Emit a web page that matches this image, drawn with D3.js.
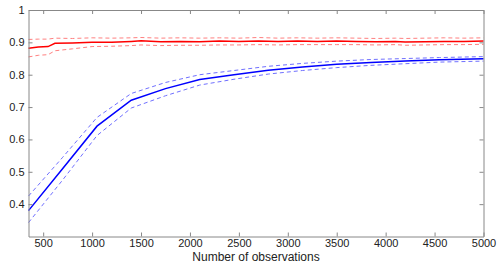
<!DOCTYPE html>
<html>
<head>
<meta charset="utf-8">
<script src="https://cdn.jsdelivr.net/npm/d3@7"></script>
<style>
  body { margin: 0; background: #fff; }
  text { font-family: "Liberation Sans", Arial, sans-serif; fill: #222; }
</style>
</head>
<body>
<div class="canvas"></div>
<script>
// blue curve: mean and dashed bounds
const blueX = [350, 700, 1050, 1400, 1750, 2100, 2450, 2800, 3150, 3500, 3850, 4200, 4550, 5000]
const blueMean = [0.38, 0.51, 0.641, 0.721, 0.757, 0.785, 0.800, 0.814, 0.824, 0.832, 0.838, 0.842, 0.846, 0.849]
const blueUpper = [0.425, 0.545, 0.668, 0.742, 0.776, 0.800, 0.813, 0.826, 0.835, 0.842, 0.847, 0.850, 0.853, 0.856]
const blueLower = [0.343, 0.475, 0.612, 0.697, 0.735, 0.768, 0.786, 0.802, 0.813, 0.822, 0.829, 0.834, 0.839, 0.842]

// red curve: mean and dashed bounds
const redX = [350, 450, 550, 620, 800, 1000, 1200, 1400, 1500, 1700, 1900, 2100, 2300, 2500, 2700, 2900, 3100, 3300, 3500, 3700, 3900, 4100, 4200, 4400, 4600, 4800, 5000]
const redMean = [0.882, 0.886, 0.887, 0.897, 0.898, 0.900, 0.900, 0.903, 0.905, 0.902, 0.903, 0.902, 0.904, 0.903, 0.904, 0.903, 0.904, 0.903, 0.904, 0.903, 0.902, 0.903, 0.901, 0.902, 0.903, 0.903, 0.904]
const redUpper = [0.909, 0.910, 0.910, 0.913, 0.912, 0.914, 0.913, 0.914, 0.915, 0.913, 0.914, 0.913, 0.914, 0.913, 0.915, 0.913, 0.914, 0.913, 0.914, 0.913, 0.912, 0.913, 0.912, 0.913, 0.914, 0.913, 0.914]
const redLower = [0.855, 0.860, 0.862, 0.874, 0.880, 0.887, 0.888, 0.890, 0.892, 0.890, 0.891, 0.891, 0.892, 0.892, 0.893, 0.892, 0.893, 0.893, 0.893, 0.893, 0.892, 0.893, 0.891, 0.892, 0.893, 0.893, 0.894]

const xTicks = [500, 1000, 1500, 2000, 2500, 3000, 3500, 4000, 4500, 5000]
const yTicks = [0.4, 0.5, 0.6, 0.7, 0.8, 0.9, 1]

const width = 498
const height = 267
const margin = { top: 10, right: 14.5, bottom: 30.5, left: 28.5 }
const graphWidth = width - margin.left - margin.right
const graphHeight = height - margin.top - margin.bottom

const svg = d3.select('.canvas').append('svg')
  .attr('width', width)
  .attr('height', height)

const graph = svg.append('g')
  .attr('transform', `translate(${margin.left}, ${margin.top})`)

const x = d3.scaleLinear().domain([350, 5000]).range([0, graphWidth])
const y = d3.scaleLinear().domain([0.3, 1]).range([graphHeight, 0])

const axisColor = '#888'

// lines
const lineOf = (xs, ys) => d3.line()
  .x((d, i) => x(xs[i]))
  .y(d => y(d))(ys)

const series = [
  { xs: redX, ys: redUpper, color: '#ff8080', dash: '4,3', w: 1 },
  { xs: redX, ys: redLower, color: '#ff8080', dash: '4,3', w: 1 },
  { xs: redX, ys: redMean, color: '#ff0000', dash: null, w: 1.5 },
  { xs: blueX, ys: blueUpper, color: '#7070ff', dash: '4,3', w: 1 },
  { xs: blueX, ys: blueLower, color: '#7070ff', dash: '4,3', w: 1 },
  { xs: blueX, ys: blueMean, color: '#0000ff', dash: null, w: 1.5 }
]

graph.selectAll('path.series')
  .data(series)
  .enter().append('path')
  .attr('class', 'series')
  .attr('d', d => lineOf(d.xs, d.ys))
  .attr('fill', 'none')
  .attr('stroke', d => d.color)
  .attr('stroke-width', d => d.w)
  .attr('stroke-dasharray', d => d.dash)

// box and inward ticks (matlab style)
const xAxisBottom = d3.axisBottom(x).tickValues(xTicks).tickSizeInner(-4).tickSizeOuter(0).tickPadding(3)
  .tickFormat(d3.format('d'))
const xAxisTop = d3.axisTop(x).tickValues(xTicks).tickSizeInner(-4).tickSizeOuter(0).tickFormat('')
const yAxisLeft = d3.axisLeft(y).tickValues(yTicks).tickSizeInner(-4).tickSizeOuter(0).tickPadding(4)
  .tickFormat(d => d3.format('')(d))
const yAxisRight = d3.axisRight(y).tickValues(yTicks).tickSizeInner(-4).tickSizeOuter(0).tickFormat('')

graph.append('g').attr('transform', `translate(0,${graphHeight})`).call(xAxisBottom)
graph.append('g').call(xAxisTop)
graph.append('g').call(yAxisLeft)
graph.append('g').attr('transform', `translate(${graphWidth},0)`).call(yAxisRight)

graph.selectAll('.domain, .tick line')
  .attr('stroke', axisColor)
graph.selectAll('.tick text')
  .attr('fill', '#222')
  .style('font-size', '11px')
  .style('font-family', '"Liberation Sans", Arial, sans-serif')

svg.append('text')
  .attr('x', margin.left + graphWidth / 2)
  .attr('y', 261)
  .attr('text-anchor', 'middle')
  .style('font-size', '12px')
  .text('Number of observations')
</script>
</body>
</html>
